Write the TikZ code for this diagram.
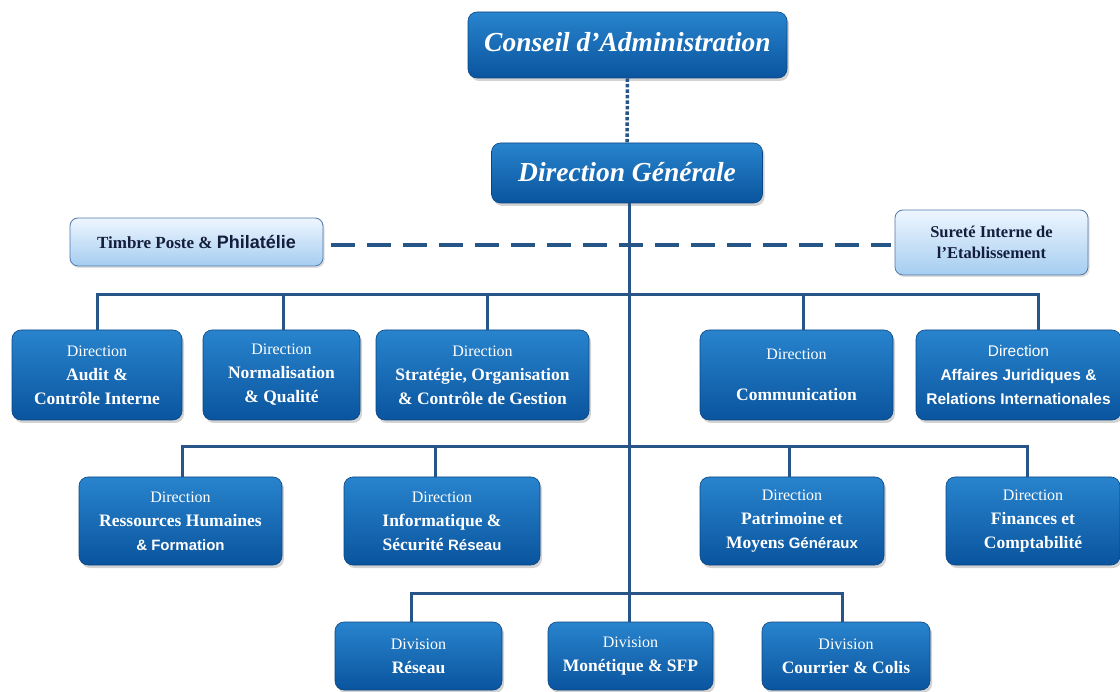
\documentclass[tikz,border=0pt]{standalone}
\usepackage{fontspec}
\setmainfont{Liberation Serif}
\newfontfamily\sansf{Liberation Sans}
\usetikzlibrary{shadows}
\definecolor{boxtop}{RGB}{40,132,205}
\definecolor{boxbot}{RGB}{10,84,158}
\definecolor{boxline}{RGB}{10,70,130}
\definecolor{linec}{RGB}{40,85,135}
\definecolor{lighttop}{RGB}{238,246,255}
\definecolor{lightbot}{RGB}{165,205,240}
\definecolor{lightline}{RGB}{80,120,170}
\definecolor{navytext}{RGB}{20,30,60}
\newcommand{\bl}[1]{{\bfseries\fontsize{17.5}{24}\selectfont #1}}
\tikzset{
  bluebox/.style={draw=boxline, line width=0.6pt, rounded corners=9pt,
    top color=boxtop, bottom color=boxbot, text=white, align=center,
    inner sep=1pt, font=\fontsize{16}{24}\selectfont,
    execute at begin node={\rule{0pt}{24pt}},
    execute at end node={\rule{0pt}{1pt}},
    drop shadow={shadow xshift=2pt, shadow yshift=-3pt, opacity=0.35}},
  lightbox/.style={draw=lightline, line width=0.8pt, rounded corners=8pt,
    top color=lighttop, bottom color=lightbot, text=navytext, align=center,
    inner sep=2pt, font=\bfseries\fontsize{16.5}{21}\selectfont,
    drop shadow={shadow xshift=1.5pt, shadow yshift=-2pt, opacity=0.25}},
  titlebox/.style={bluebox, font=\bfseries\itshape\fontsize{27.5}{32}\selectfont,
    execute at begin node=, execute at end node=\rule[-#1]{0pt}{#1}},
  conn/.style={draw=linec, line width=3pt},
}
\begin{document}
\begin{tikzpicture}[x=1pt,y=-1pt]
\useasboundingbox (0,0) rectangle (1120,692);
% top
\node[titlebox=10pt, minimum width=319pt, minimum height=66pt] (ca) at (627.5,45) {Conseil d’Administration};
\node[titlebox=6pt, minimum width=271pt, minimum height=60pt] (dg) at (627,173) {Direction Générale};
\node[lightbox, minimum width=253pt, minimum height=48pt, font=\bfseries\fontsize{17}{21}\selectfont] (tp) at (196.5,242) {Timbre Poste \& {\sansf\fontsize{18}{21}\selectfont Philatélie}};
\node[lightbox, minimum width=193pt, minimum height=65pt] (su) at (991.5,242.5) {Sureté Interne de\\ l’Etablissement};
% row 1
\node[bluebox, minimum width=170pt, minimum height=90pt] (au) at (97,375) {Direction\\ \bl{Audit \&}\\ \bl{Contrôle Interne}};
\node[bluebox, minimum width=157pt, minimum height=90pt] (nq) at (281.5,375) {Direction\\ \bl{Normalisation}\\ \bl{\& Qualité}};
\node[bluebox, minimum width=213pt, minimum height=90pt] (so) at (482.5,375) {Direction\\ \bl{Stratégie, Organisation}\\ \bl{\& Contrôle de Gestion}};
\node[bluebox, minimum width=193pt, minimum height=90pt] (co) at (796.5,375) {Direction\\[17pt] \bl{Communication}};
\node[bluebox, minimum width=205pt, minimum height=90pt, font=\sansf\fontsize{15.5}{24}\selectfont] (aj) at (1018.5,375) {Direction\\ \textbf{Affaires Juridiques \&}\\ \textbf{Relations Internationales}};
% row 2
\node[bluebox, minimum width=203pt, minimum height=88pt] (rh) at (180.5,521) {Direction\\ \bl{Ressources Humaines}\\ {\sansf\bfseries\fontsize{15}{24}\selectfont \& Formation}};
\node[bluebox, minimum width=196pt, minimum height=88pt] (is) at (442,521) {Direction\\ \bl{Informatique \&}\\ \bl{Sécurité {\sansf\fontsize{15}{24}\selectfont Réseau}}};
\node[bluebox, minimum width=184pt, minimum height=88pt] (pm) at (792,521) {Direction\\ \bl{Patrimoine et}\\ \bl{Moyens {\sansf\fontsize{15}{24}\selectfont Généraux}}};
\node[bluebox, minimum width=174pt, minimum height=88pt] (fc) at (1033,521) {Direction\\ \bl{Finances et}\\ \bl{Comptabilité}};
% row 3
\node[bluebox, minimum width=167pt, minimum height=68pt] (dr) at (418.5,656) {Division\\ \bl{Réseau}};
\node[bluebox, minimum width=165pt, minimum height=68pt] (dm) at (630.5,656) {Division\\ \bl{Monétique \& SFP}};
\node[bluebox, minimum width=168pt, minimum height=68pt] (dc) at (846,656) {Division\\ \bl{Courrier \& Colis}};
% bar coordinates
\coordinate (b1) at (629,295);
\coordinate (b2) at (629,447);
\coordinate (b3) at (629,593);
\coordinate (dl) at (0,245);
% connectors
\draw[draw=linec, line width=3.5pt, dotted] (ca.south) -- (dg.north);
\draw[draw=linec, line width=3.5pt, dash pattern=on 24pt off 12pt] ([xshift=8pt]tp.east |- dl) -- ([xshift=-4pt]su.west |- dl);
\draw[conn] (b1 |- dg.south) -- (b1 |- dm.north);
\draw[conn] ([xshift=-1.5pt]au.north |- b1) -- ([xshift=21.5pt]aj.north |- b1);
\foreach \n/\dx in {au/0,nq/2,so/5,co/7,aj/20}{\draw[conn] ([xshift=\dx pt]\n.north) -- ([xshift=\dx pt]\n.north |- b1);}
\draw[conn] ([xshift=0.5pt]rh.north |- b2) -- ([xshift=-4.5pt]fc.north |- b2);
\foreach \n/\dx in {rh/2,is/-7,pm/-3,fc/-6}{\draw[conn] ([xshift=\dx pt]\n.north) -- ([xshift=\dx pt]\n.north |- b2);}
\draw[conn] ([xshift=-8.5pt]dr.north |- b3) -- ([xshift=-2.5pt]dc.north |- b3);
\foreach \n/\dx in {dr/-7,dc/-4}{\draw[conn] ([xshift=\dx pt]\n.north) -- ([xshift=\dx pt]\n.north |- b3);}
\end{tikzpicture}
\end{document}
